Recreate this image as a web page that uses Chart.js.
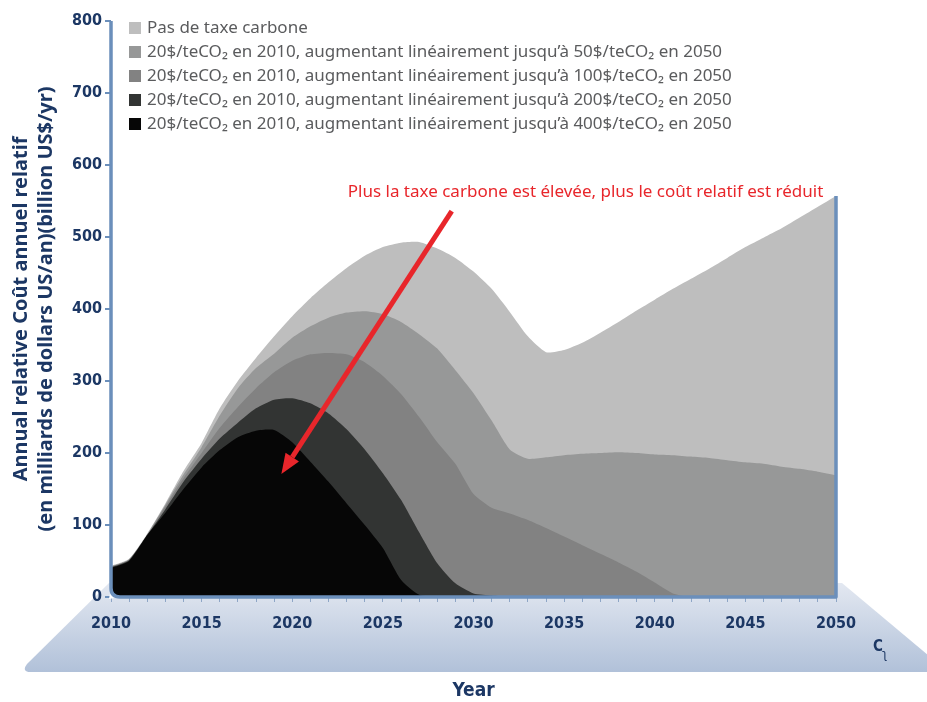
<!DOCTYPE html>
<html lang="fr">
<head>
<meta charset="UTF-8">
<title>Coût annuel relatif</title>
<script src="https://cdn.jsdelivr.net/npm/chart.js"></script>
<style>
  body { margin: 0; background: #fff; }
  .zone { width: 927px; height: 702px; position: relative; }
</style>
</head>
<body>
<div class="zone"><canvas id="coutChart"></canvas></div>

<script>
// années (axe x) et étiquettes affichées
const annees = [2010, 2011, 2012, 2013, 2014, 2015, 2016, 2017, 2018, 2019,
                2020, 2021, 2022, 2023, 2024, 2025, 2026, 2027, 2028, 2029,
                2030, 2031, 2032, 2033, 2034, 2035, 2036, 2037, 2038, 2039,
                2040, 2041, 2042, 2043, 2044, 2045, 2046, 2047, 2048, 2049, 2050];
const etiquettesAnnees = [2010, 2015, 2020, 2025, 2030, 2035, 2040, 2045, 2050];
const etiquettesCout = [0, 100, 200, 300, 400, 500, 600, 700, 800];

// coût annuel relatif (milliards US$/an)
const sansTaxe = [43, 53, 88, 130, 175, 214, 262, 300, 332, 362,
                  390, 415, 437, 457, 474, 486, 492, 493, 484, 471,
                  452, 428, 396, 362, 340, 343, 353, 367, 382, 398,
                  413, 428, 442, 456, 471, 486, 499, 512, 527, 542, 557];
const taxe50 = [42, 52, 87, 128, 170, 208, 252, 290, 318, 338,
                360, 376, 388, 395, 397, 393, 382, 365, 345, 315,
                283, 245, 205, 192, 194, 197, 199, 200, 201, 200,
                198, 197, 195, 193, 190, 187, 185, 181, 178, 174, 169];
const taxe100 = [42, 52, 86, 126, 165, 200, 235, 264, 290, 312,
                 328, 337, 339, 337, 326, 307, 282, 250, 215, 185,
                 143, 124, 116, 107, 96, 84, 72, 60, 48, 35,
                 20, 5, 0, 0, 0, 0, 0, 0, 0, 0, 0];
const taxe200 = [41, 51, 86, 122, 160, 192, 220, 242, 262, 274,
                 276, 269, 255, 233, 205, 172, 135, 90, 47, 19,
                 5, 2, 0, 0, 0, 0, 0, 0, 0, 0,
                 0, 0, 0, 0, 0, 0, 0, 0, 0, 0, 0];
const taxe400 = [40, 50, 86, 117, 150, 180, 204, 222, 231, 232,
                 215, 188, 160, 130, 100, 68, 24, 3, 0, 0,
                 0, 0, 0, 0, 0, 0, 0, 0, 0, 0,
                 0, 0, 0, 0, 0, 0, 0, 0, 0, 0, 0];

const series = [
  { label: 'Pas de taxe carbone', valeurs: sansTaxe, couleur: '#bebebe' },
  { label: '20$/teCO₂ en 2010, augmentant linéairement jusqu’à 50$/teCO₂ en 2050', valeurs: taxe50, couleur: '#979898' },
  { label: '20$/teCO₂ en 2010, augmentant linéairement jusqu’à 100$/teCO₂ en 2050', valeurs: taxe100, couleur: '#828282' },
  { label: '20$/teCO₂ en 2010, augmentant linéairement jusqu’à 200$/teCO₂ en 2050', valeurs: taxe200, couleur: '#323433' },
  { label: '20$/teCO₂ en 2010, augmentant linéairement jusqu’à 400$/teCO₂ en 2050', valeurs: taxe400, couleur: '#060606' }
];

// annotation (en coordonnées année / valeur)
const note = {
  texte: 'Plus la taxe carbone est élevée, plus le coût relatif est réduit',
  x: 2049.3, y: 562,
  depart: { x: 2028.8, y: 536 },
  pointe: { x: 2019.4, y: 171 }
};

const bleu = '#6b8fbb';
const marine = '#1c3764';
const policeCond = '"DejaVu Sans Condensed", "Liberation Sans Narrow", sans-serif';

// le "sol" bleuté sous le graphique
const solPlugin = {
  id: 'sol',
  beforeDraw(chart) {
    const { ctx, chartArea: a } = chart;
    const haut = a.bottom - 14, bas = a.bottom + 75, r = 8;
    const g = ctx.createLinearGradient(0, haut, 0, bas);
    g.addColorStop(0, '#e3e8f1');
    g.addColorStop(1, '#b1c1d9');
    ctx.save();
    ctx.fillStyle = g;
    ctx.beginPath();
    ctx.moveTo(a.left - 2, haut);
    ctx.lineTo(a.right + 6, haut);
    ctx.lineTo(a.right + 112, bas);
    ctx.lineTo(a.left - 80, bas);
    ctx.quadraticCurveTo(a.left - 90, bas, a.left - 84, bas - r);
    ctx.closePath();
    ctx.fill();
    ctx.restore();
  }
};

const cadrePlugin = {
  id: 'cadre',
  afterDatasetsDraw(chart) {
    const { ctx, chartArea: a, scales } = chart;
    const r = 9;
    const yFin = scales.y.getPixelForValue(sansTaxe[sansTaxe.length - 1]);
    ctx.save();
    // coin arrondi
    ctx.fillStyle = '#ffffff';
    ctx.beginPath();
    ctx.moveTo(a.left, a.bottom - r);
    ctx.quadraticCurveTo(a.left, a.bottom, a.left + r, a.bottom);
    ctx.lineTo(a.left - 2, a.bottom + 2);
    ctx.closePath();
    ctx.fill();
    // axes
    ctx.strokeStyle = bleu;
    ctx.lineWidth = 3.5;
    ctx.lineJoin = 'round';
    ctx.beginPath();
    ctx.moveTo(a.left, a.top);
    ctx.lineTo(a.left, a.bottom - r);
    ctx.quadraticCurveTo(a.left, a.bottom, a.left + r, a.bottom);
    ctx.lineTo(a.right, a.bottom);
    ctx.lineTo(a.right, yFin);
    ctx.stroke();
    ctx.restore();
  },
  afterDraw(chart) {
    const { ctx, chartArea: a, scales } = chart;
    const sx = scales.x, sy = scales.y;
    ctx.save();

    // légende
    ctx.font = '17px "Noto Sans", sans-serif';
    ctx.textBaseline = 'middle';
    ctx.textAlign = 'left';
    series.forEach((s, i) => {
      const y = a.top + 7 + i * 24;
      ctx.fillStyle = s.couleur;
      ctx.fillRect(a.left + 18, y - 6, 12, 12);
      ctx.fillStyle = '#5a5b5d';
      ctx.fillText(s.label, a.left + 36, y);
    });

    // texte rouge
    ctx.fillStyle = '#e8262b';
    ctx.font = '17px "Noto Sans", sans-serif';
    ctx.textAlign = 'right';
    ctx.fillText(note.texte, sx.getPixelForValue(note.x), sy.getPixelForValue(note.y));

    // flèche
    const x1 = sx.getPixelForValue(note.depart.x), y1 = sy.getPixelForValue(note.depart.y);
    const x2 = sx.getPixelForValue(note.pointe.x), y2 = sy.getPixelForValue(note.pointe.y);
    const ang = Math.atan2(y2 - y1, x2 - x1);
    const long = 20, larg = 8;
    const bx = x2 - long * Math.cos(ang), by = y2 - long * Math.sin(ang);
    ctx.strokeStyle = '#e8262b';
    ctx.lineWidth = 5;
    ctx.beginPath();
    ctx.moveTo(x1, y1);
    ctx.lineTo(bx, by);
    ctx.stroke();
    ctx.beginPath();
    ctx.moveTo(x2, y2);
    ctx.lineTo(bx + larg * Math.sin(ang), by - larg * Math.cos(ang));
    ctx.lineTo(bx - larg * Math.sin(ang), by + larg * Math.cos(ang));
    ctx.closePath();
    ctx.fill();

    // petit logo
    ctx.fillStyle = marine;
    ctx.textAlign = 'left';
    ctx.font = 'bold 15px ' + policeCond;
    ctx.fillText('C', a.right + 37, a.bottom + 50);
    ctx.font = '13px ' + policeCond;
    ctx.fillText('ʅ', a.right + 46, a.bottom + 58);
    ctx.restore();
  }
};

const ctx = document.getElementById('coutChart').getContext('2d');

const coutChart = new Chart(ctx, {
  type: 'line',
  data: {
    datasets: series.map((s, i) => ({
      label: s.label,
      data: annees.map((an, k) => ({ x: an, y: s.valeurs[k] })),
      backgroundColor: s.couleur,
      borderColor: s.couleur,
      borderWidth: 0,
      pointRadius: 0,
      fill: 'origin',
      tension: 0.2,
      order: series.length - i
    }))
  },
  options: {
    responsive: true,
    maintainAspectRatio: false,
    animation: false,
    layout: { padding: { top: 21, right: 91, left: 0, bottom: 0 } },
    plugins: {
      legend: { display: false },
      tooltip: { enabled: false }
    },
    scales: {
      x: {
        type: 'linear',
        min: 2010,
        max: 2050,
        afterFit: (scale) => { scale.height = 105; },
        border: { display: false },
        grid: { drawOnChartArea: false, drawTicks: true, tickLength: 5, color: '#8ea6c6' },
        ticks: {
          stepSize: 1,
          autoSkip: false,
          maxTicksLimit: 100,
          maxRotation: 0,
          padding: 12,
          color: marine,
          font: { family: policeCond, size: 16, weight: 'bold' },
          callback: (v) => etiquettesAnnees.includes(v) ? String(v) : ''
        },
        title: {
          display: true,
          text: 'Year',
          color: marine,
          padding: { top: 0, bottom: 0 },
          font: { family: policeCond, size: 19, weight: 'bold' }
        }
      },
      y: {
        min: 0,
        max: 800,
        afterFit: (scale) => { scale.width = 111; },
        border: { display: false },
        grid: { drawOnChartArea: false, drawTicks: true, tickLength: 6, color: bleu, lineWidth: 2 },
        ticks: {
          stepSize: 100,
          padding: 3,
          color: marine,
          font: { family: policeCond, size: 16, weight: 'bold' },
          callback: (v) => etiquettesCout.includes(v) ? String(v) : ''
        },
        title: {
          display: true,
          text: ['Annual relative Coût annuel relatif', '(en milliards de dollars US/an)(billion US$/yr)'],
          color: marine,
          padding: { top: 9, bottom: 0 },
          font: { family: '"Noto Sans", sans-serif', size: 20, weight: 'bold', lineHeight: 1.25 }
        }
      }
    }
  },
  plugins: [solPlugin, cadrePlugin]
});
</script>
</body>
</html>
